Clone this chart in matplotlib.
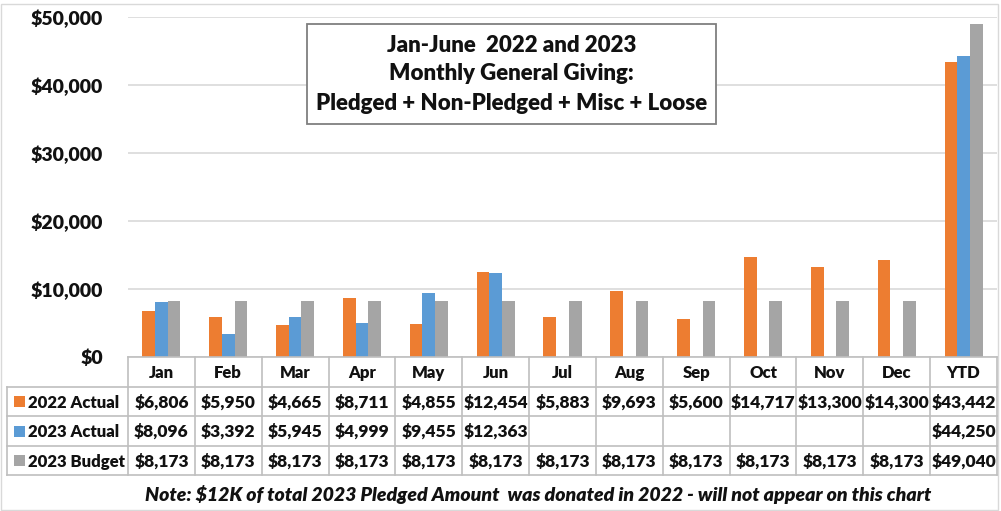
import matplotlib
matplotlib.use("Agg")
import matplotlib.pyplot as plt
from matplotlib.patches import Rectangle
import numpy as np

categories = ["Jan", "Feb", "Mar", "Apr", "May", "Jun", "Jul", "Aug", "Sep", "Oct", "Nov", "Dec", "YTD"]
series_names = ["2022 Actual", "2023 Actual", "2023 Budget"]
actual_2022 = [6806, 5950, 4665, 8711, 4855, 12454, 5883, 9693, 5600, 14717, 13300, 14300, 43442]
actual_2023 = [8096, 3392, 5945, 4999, 9455, 12363, None, None, None, None, None, None, 44250]
budget_2023 = [8173, 8173, 8173, 8173, 8173, 8173, 8173, 8173, 8173, 8173, 8173, 8173, 49040]
yticks = [0, 10000, 20000, 30000, 40000, 50000]
title_lines = ["Jan-June  2022 and 2023", "Monthly General Giving:", "Pledged + Non-Pledged + Misc + Loose"]
note = "Note: $12K of total 2023 Pledged Amount  was donated in 2022 - will not appear on this chart"
colors = ["#ED7D31", "#5B9BD5", "#A5A5A5"]

FONT = ["Lato", "DejaVu Sans"]
plt.rcParams["font.family"] = FONT
WT = 800
TXT = "#111111"

W, H = 1001, 511
fig = plt.figure(figsize=(W / 100, H / 100), dpi=100)

# pixel geometry
x0, x1 = 128, 997
y_top, y_zero = 17, 357
ax = fig.add_axes([x0 / W, (H - y_zero) / H, (x1 - x0) / W, (y_zero - y_top) / H])
n = len(categories)
xs = np.arange(n)
bw = 0.19
series = [actual_2022, actual_2023, budget_2023]
for i, (vals, c) in enumerate(zip(series, colors)):
    xi = [x + (i - 1) * bw for x, v in zip(xs, vals) if v is not None]
    vi = [v for v in vals if v is not None]
    ax.bar(xi, vi, width=bw, color=c, zorder=3)
ax.set_xlim(-0.5, n - 0.5)
ax.set_ylim(0, 50000)
ax.set_yticks(yticks)
ax.set_yticklabels([f"${v:,.0f}" for v in yticks], fontsize=14, fontweight=WT, color=TXT)
ax.tick_params(axis="y", length=0, pad=18)
ax.set_xticks([])
ax.grid(axis="y", color="#D9D9D9", linewidth=1.2, zorder=0)
for s in ax.spines.values():
    s.set_visible(False)

# title box
tb_x0, tb_x1, tb_y0, tb_y1 = 307, 716, 24, 124
tax = fig.add_axes([0, 0, 1, 1], facecolor="none")
tax.set_xlim(0, W)
tax.set_ylim(H, 0)
tax.axis("off")
tax.add_patch(Rectangle((tb_x0, tb_y0), tb_x1 - tb_x0, tb_y1 - tb_y0, facecolor="white",
                        edgecolor="#7F7F7F", linewidth=1.3, zorder=5))
for k, line in enumerate(title_lines):
    tax.text((tb_x0 + tb_x1) / 2, 45 + k * 29, line, ha="center", va="center", fontsize=16,
             fontweight=WT, color=TXT, zorder=6)

# outer frame
tax.add_patch(Rectangle((1, 4), 997, 506, facecolor="none", edgecolor="#D9D9D9", linewidth=1))

# data table
grid_c = "#BFBFBF"
colw = (x1 - x0) / n
row_y = [357, 387, 416, 446, 475]
tbl_left = 7
tax.plot([x0, x1], [row_y[0], row_y[0]], color=grid_c, lw=1.2)
for yy in row_y[1:]:
    tax.plot([tbl_left, x1], [yy, yy], color=grid_c, lw=1.2)
for j in range(n + 1):
    xx = x0 + j * colw
    tax.plot([xx, xx], [row_y[0], row_y[-1]], color=grid_c, lw=1.2)
tax.plot([tbl_left, tbl_left], [row_y[1], row_y[-1]], color=grid_c, lw=1.2)

for j, cat in enumerate(categories):
    cx = x0 + (j + 0.5) * colw
    tax.text(cx, (row_y[0] + row_y[1]) / 2 + 1, cat, ha="center", va="center",
             fontsize=12, fontweight=WT, color=TXT)
for r, (name, vals, c) in enumerate(zip(series_names, series, colors)):
    cy = (row_y[r + 1] + row_y[r + 2]) / 2 + 1
    tax.add_patch(Rectangle((14, cy - 6), 11, 11, facecolor=c, edgecolor="none"))
    tax.text(28, cy, name, ha="left", va="center", fontsize=12, fontweight=WT, color=TXT)
    for j, v in enumerate(vals):
        if v is None:
            continue
        cx = x0 + (j + 0.5) * colw
        tax.text(cx, cy, f"${v:,.0f}", ha="center", va="center", fontsize=12.5,
                 fontweight=WT, color=TXT)

tax.text(538, 495, note, ha="center", va="center", fontsize=14, fontweight=WT,
         style="italic", color=TXT)

fig.savefig("out.png", dpi=100, facecolor="white")
